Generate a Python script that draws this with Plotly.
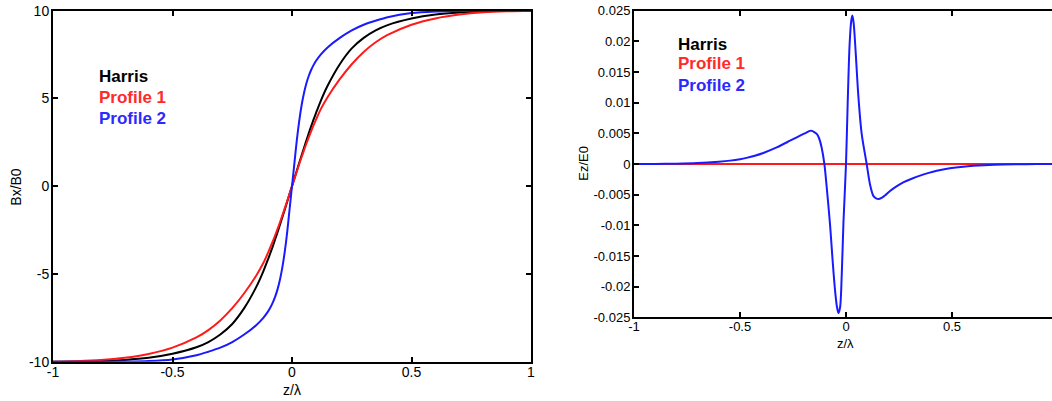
import plotly.graph_objects as go

# ---------------- data ----------------
# Left panel: Bx/B0 versus z/lambda (right half, z >= 0; the curves are odd)
z_half = [0, 0.01, 0.02, 0.03, 0.04, 0.05, 0.06, 0.07, 0.08, 0.09, 0.1, 0.12,
          0.15, 0.2, 0.25, 0.3, 0.35, 0.4, 0.5, 0.6, 0.7, 0.8, 0.9, 1.0]
harris_bx_half = [0, 0.44, 0.88, 1.32, 1.75, 2.18, 2.6, 3.01, 3.41, 3.79, 4.15, 4.85,
                  5.75, 6.95, 7.85, 8.45, 8.88, 9.18, 9.55, 9.78, 9.9, 9.96, 9.99, 10.0]
profile1_bx_half = [0, 0.42, 0.84, 1.25, 1.65, 2.04, 2.42, 2.78, 3.13, 3.46, 3.78, 4.38,
                    5.1, 6.1, 6.95, 7.65, 8.2, 8.62, 9.2, 9.56, 9.78, 9.91, 9.97, 10.0]
profile2_bx_half = [0, 1.3, 2.6, 3.7, 4.6, 5.3, 5.85, 6.28, 6.62, 6.9, 7.13, 7.5,
                    7.92, 8.45, 8.88, 9.2, 9.43, 9.63, 9.87, 9.96, 9.99, 10.0, 10.0, 10.0]

# Right panel: Ez/E0 versus z/lambda
z_ez = [-1, -0.9, -0.8, -0.7, -0.6, -0.547, -0.5, -0.469, -0.43, -0.39, -0.327,
        -0.264, -0.23, -0.2, -0.185, -0.17, -0.16, -0.15, -0.138, -0.127, -0.115,
        -0.102, -0.088, -0.075, -0.063, -0.052, -0.044, -0.036, -0.028, -0.02,
        -0.012, 0, 0.008, 0.017, 0.025, 0.030, 0.036, 0.046, 0.058, 0.074, 0.0975,
        0.113, 0.129, 0.142, 0.155, 0.17, 0.185, 0.2075, 0.24, 0.27, 0.31, 0.349,
        0.39, 0.428, 0.49, 0.553, 0.6, 0.7, 0.8, 0.9, 1.0]
profile2_ez = [0, 0.00002, 0.00006, 0.00016, 0.00038, 0.00055, 0.00078, 0.001,
               0.00135, 0.0018, 0.0027, 0.0038, 0.0044, 0.0049, 0.00515, 0.0054,
               0.0054, 0.0052, 0.0049, 0.0042, 0.0027, 0, -0.0049, -0.0100, -0.0158,
               -0.0205, -0.0230, -0.0243, -0.0234, -0.0180, -0.0095, 0, 0.0100,
               0.0195, 0.0234, 0.0242, 0.0230, 0.0180, 0.0112, 0.0049, 0, -0.0033,
               -0.0052, -0.0056, -0.0057, -0.0055, -0.0051, -0.0044, -0.0036, -0.0030,
               -0.0024, -0.0019, -0.00145, -0.0011, -0.0007, -0.00043, -0.0003,
               -0.00012, -0.00004, -0.00001, 0]
harris_ez = [0] * len(z_ez)
profile1_ez = [0] * len(z_ez)

series_names = ["Harris", "Profile 1", "Profile 2"]

x_tickvals = [-1, -0.5, 0, 0.5, 1]
x_ticktext = ["-1", "-0.5", "0", "0.5", "1"]
bx_tickvals = [-10, -5, 0, 5, 10]
bx_ticktext = ["-10", "-5", "0", "5", "10"]
ez_tickvals = [-0.025, -0.02, -0.015, -0.01, -0.005, 0, 0.005, 0.01, 0.015, 0.02, 0.025]
ez_ticktext = ["-0.025", "-0.02", "-0.015", "-0.01", "-0.005", "0",
               "0.005", "0.01", "0.015", "0.02", "0.025"]

# ---------------- build full (odd) left curves ----------------
def full_odd(zh, vh):
    zz = [-z for z in reversed(zh[1:])] + list(zh)
    vv = [-v for v in reversed(vh[1:])] + list(vh)
    return zz, vv

z_bx, harris_bx = full_odd(z_half, harris_bx_half)
_, profile1_bx = full_odd(z_half, profile1_bx_half)
_, profile2_bx = full_odd(z_half, profile2_bx_half)

BLACK = "#000000"
RED = "#ff1a1a"
BLUE = "#1a1aff"
FONT = "Liberation Sans, Arial, Helvetica, sans-serif"

fig = go.Figure()
for name, yv, col in zip(series_names, [harris_bx, profile1_bx, profile2_bx], [BLACK, RED, BLUE]):
    fig.add_trace(go.Scatter(x=z_bx, y=yv, mode="lines", name=name,
                             line=dict(color=col, width=2, shape="spline", smoothing=0.8),
                             xaxis="x", yaxis="y", showlegend=False))
for name, yv, col, lw in zip(series_names, [harris_ez, profile1_ez, profile2_ez],
                             [BLACK, RED, BLUE], [1, 2, 2]):
    fig.add_trace(go.Scatter(x=z_ez, y=yv, mode="lines", name=name,
                             line=dict(color=col, width=lw, shape="spline", smoothing=0.8),
                             xaxis="x2", yaxis="y2", showlegend=False))

W, H = 1052, 401
def px_x(p):
    return p / W
def px_y(p):
    return (H - p) / H

axis_common = dict(showgrid=False, zeroline=False, showline=True, linecolor="black",
                   linewidth=2, ticks="inside", ticklen=5, tickwidth=1.5,
                   tickcolor="black", tickmode="array", automargin=False)

fig.update_layout(
    width=W, height=H,
    margin=dict(l=0, r=0, t=0, b=0, autoexpand=False),
    paper_bgcolor="white", plot_bgcolor="white",
    font=dict(family=FONT, color="black"),
    xaxis=dict(domain=[px_x(53), px_x(531)], range=[-1, 1], anchor="y",
               mirror="ticks", tickvals=x_tickvals, ticktext=x_ticktext,
               tickfont=dict(size=14), ticklabelstandoff=-4, **axis_common),
    yaxis=dict(domain=[px_y(361.7), px_y(10.7)], range=[-10, 10], anchor="x",
               mirror="ticks", tickvals=bx_tickvals, ticktext=bx_ticktext,
               tickfont=dict(size=14), ticklabelstandoff=-1, **axis_common),
    xaxis2=dict(domain=[px_x(634), 1.0], range=[-1, (1052 - 846) / 212], anchor="y2",
                mirror="ticks", tickvals=x_tickvals, ticktext=x_ticktext,
                tickfont=dict(size=13), ticklabelstandoff=-4, **axis_common),
    yaxis2=dict(domain=[px_y(317.3), px_y(10.7)], range=[-0.025, 0.025], anchor="x2",
                mirror=False, tickvals=ez_tickvals, ticktext=ez_ticktext,
                tickfont=dict(size=13), ticklabelstandoff=-1, **axis_common),
)

annotations = []
# axis titles
annotations.append(dict(text="z/λ", x=px_x(292), y=px_y(390), xref="paper", yref="paper",
                        showarrow=False, font=dict(size=14), xanchor="center", yanchor="middle"))
annotations.append(dict(text="Bx/B0", x=px_x(16), y=px_y(186.7), xref="paper", yref="paper",
                        showarrow=False, font=dict(size=14), textangle=-90,
                        xanchor="center", yanchor="middle"))
annotations.append(dict(text="z/λ", x=px_x(845), y=px_y(343), xref="paper", yref="paper",
                        showarrow=False, font=dict(size=13), xanchor="center", yanchor="middle"))
annotations.append(dict(text="Ez/E0", x=px_x(582.7), y=px_y(163), xref="paper", yref="paper",
                        showarrow=False, font=dict(size=13), textangle=-90,
                        xanchor="center", yanchor="middle"))
# in-plot legends
left_leg_y = [76.7, 97.7, 119]
right_leg_y = [44, 63.3, 85]
text_cols = ["#000000", "#ff2a2a", "#2a2aff"]
for name, yl, yr, col in zip(series_names, left_leg_y, right_leg_y, text_cols):
    annotations.append(dict(text="<b>%s</b>" % name, x=px_x(97), y=px_y(yl), xref="paper",
                            yref="paper", showarrow=False, font=dict(size=17, color=col),
                            xanchor="left", yanchor="middle"))
    annotations.append(dict(text="<b>%s</b>" % name, x=px_x(675.5), y=px_y(yr), xref="paper",
                            yref="paper", showarrow=False, font=dict(size=17, color=col),
                            xanchor="left", yanchor="middle"))
fig.update_layout(annotations=annotations)

fig.write_html("out.html",
               post_script="document.body.style.margin='0';document.body.style.overflow='hidden';")
